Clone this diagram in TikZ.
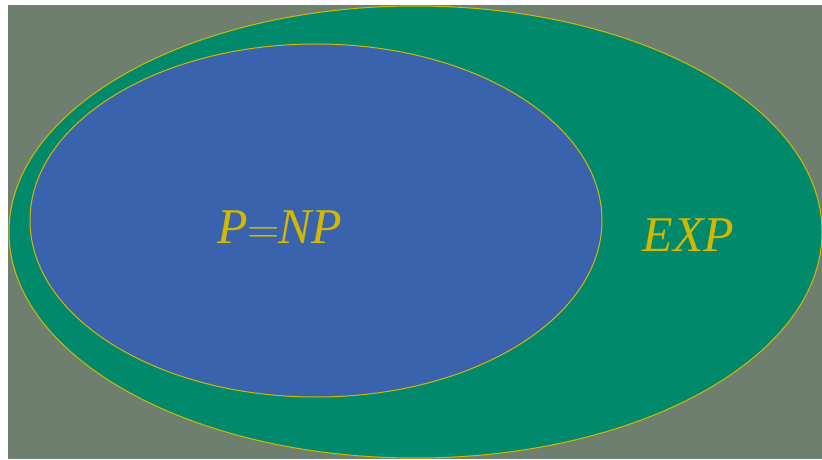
\documentclass[tikz,border=0pt]{standalone}
\usepackage{graphicx}
\usepackage{fontspec}
\setmainfont{Liberation Serif}
\usetikzlibrary{shapes.geometric}
\definecolor{bggray}{HTML}{6F7F6F}
\definecolor{expgreen}{HTML}{00896A}
\definecolor{pblue}{HTML}{3A63AE}
\definecolor{labyellow}{HTML}{D4B800}
\tikzset{
  setshape/.style={ellipse, draw=labyellow, line width=1pt, inner sep=0pt},
  setlabel/.style={text=labyellow, font=\fontsize{50}{60}\selectfont, inner sep=0pt}
}
\begin{document}
\begin{tikzpicture}[x=1pt,y=1pt]
\useasboundingbox (0,0) rectangle (822,459);
\fill[bggray] (8,0) rectangle (822,454);
\node[setshape, fill=expgreen, minimum width=813pt, minimum height=452pt] (exp) at (415.5,227) {};
\node[setshape, fill=pblue, minimum width=572pt, minimum height=353pt] (pnp) at (316,238.5) {};
\node[setlabel] (pnplabel) at (280,232) {\textit{P}\kern-1pt\scalebox{1.8}{$=$}\kern-1pt\textit{NP}};
\node[setlabel] (explabel) at (688.5,224) {\textit{EXP}};
\end{tikzpicture}
\end{document}
